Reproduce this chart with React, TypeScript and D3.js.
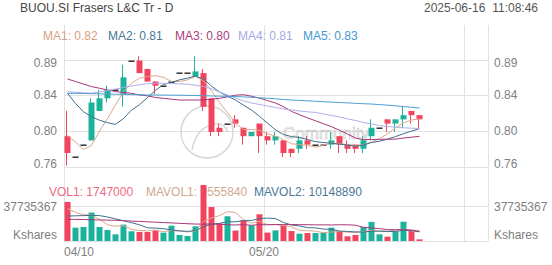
import React from "react";
import * as d3 from "d3";

const dates = ["04/10","04/11","04/14","04/15","04/16","04/17","04/21","04/22","04/23","04/24","04/25","04/28","04/29","04/30","05/02","05/05","05/06","05/07","05/08","05/09","05/13","05/14","05/15","05/16","05/19","05/20","05/21","05/22","05/23","05/26","05/27","05/28","05/29","05/30","06/02","06/03","06/04","06/05","06/06","06/09","06/10","06/11","06/12","06/13","06/16"];
const opens = [0.795,0.77,0.785,0.79,0.825,0.84,0.85,0.845,0.885,0.885,0.875,0.86,0.855,0.86,0.87,0.87,0.866,0.87,0.84,0.805,0.81,0.815,0.805,0.795,0.81,0.795,0.79,0.79,0.78,0.78,0.79,0.785,0.785,0.785,0.795,0.785,0.785,0.78,0.795,0.805,0.815,0.81,0.815,0.825,0.82];
const highs = [0.825,0.77,0.785,0.84,0.85,0.855,0.85,0.88,0.885,0.89,0.875,0.86,0.855,0.86,0.87,0.87,0.89,0.875,0.84,0.81,0.81,0.82,0.805,0.80,0.81,0.80,0.80,0.79,0.78,0.795,0.795,0.785,0.785,0.80,0.795,0.79,0.785,0.795,0.815,0.805,0.815,0.815,0.83,0.825,0.82];
const lows = [0.76,0.77,0.785,0.79,0.825,0.835,0.85,0.83,0.885,0.87,0.86,0.845,0.855,0.86,0.87,0.87,0.866,0.825,0.795,0.795,0.81,0.805,0.785,0.795,0.775,0.785,0.785,0.77,0.77,0.775,0.78,0.785,0.785,0.78,0.775,0.775,0.775,0.775,0.79,0.805,0.80,0.80,0.805,0.81,0.805];
const closes = [0.775,0.77,0.785,0.835,0.84,0.85,0.85,0.865,0.885,0.87,0.86,0.855,0.855,0.86,0.87,0.87,0.872,0.83,0.80,0.80,0.81,0.81,0.795,0.80,0.795,0.79,0.795,0.775,0.775,0.79,0.785,0.785,0.785,0.79,0.785,0.78,0.78,0.79,0.805,0.805,0.81,0.815,0.82,0.82,0.815];
const volumes = [41.5e6,14.2e6,14.9e6,30.2e6,14.9e6,11.7e6,7.1e6,17.4e6,10.3e6,9.6e6,9.6e6,11.3e6,8.9e6,16.3e6,6.4e6,5.3e6,15.6e6,59.5e6,36.1e6,18.5e6,26.3e6,11.1e6,22.0e6,16.7e6,28.4e6,8.9e6,11.3e6,16.7e6,10.6e6,7.8e6,8.5e6,8.5e6,8.9e6,14.2e6,10.3e6,5.0e6,6.4e6,14.9e6,20.3e6,7.1e6,4.6e6,10.3e6,20.5e6,10.6e6,1747000];

const ma1 = [0.796,0.788,0.779,0.784,0.801,0.816,0.832,0.848,0.858,0.864,0.866,0.867,0.865,0.86,0.86,0.862,0.866,0.861,0.849,0.835,0.823,0.81,0.803,0.803,0.802,0.798,0.795,0.791,0.786,0.785,0.784,0.782,0.784,0.787,0.786,0.785,0.784,0.785,0.788,0.792,0.798,0.805,0.811,0.814,0.816];
const ma2 = [0.846,0.834,0.824,0.818,0.814,0.811,0.809,0.816,0.826,0.8325,0.841,0.8495,0.8565,0.859,0.862,0.864,0.8665,0.863,0.8545,0.8475,0.8425,0.838,0.832,0.826,0.8185,0.8105,0.8025,0.797,0.7945,0.7935,0.791,0.7885,0.7875,0.7865,0.7855,0.7845,0.783,0.7845,0.7875,0.789,0.7915,0.7945,0.798,0.801,0.804];
const ma3 = [0.863,0.860,0.857,0.854,0.852,0.850,0.848,0.847,0.846,0.844,0.843,0.841,0.840,0.839,0.838,0.838,0.838,0.838,0.839,0.840,0.8418,0.8438,0.8443,0.8425,0.8403,0.8373,0.8345,0.830,0.8245,0.8205,0.8168,0.8133,0.8098,0.8063,0.802,0.7975,0.7928,0.7908,0.791,0.7913,0.7913,0.7915,0.7928,0.7938,0.7948];
const ma4 = [0.8479,0.8473,0.8466,0.8461,0.8476,0.8493,0.8511,0.8529,0.8547,0.8561,0.8575,0.8579,0.8579,0.8577,0.8573,0.8568,0.8556,0.8541,0.8511,0.8476,0.8440,0.8404,0.8369,0.8345,0.8327,0.8309,0.8291,0.8274,0.8262,0.8250,0.8240,0.8232,0.8214,0.8196,0.8178,0.8155,0.8137,0.8113,0.8095,0.8077,0.8065,0.8057,0.8050,0.8045,0.8042];
const ma5 = [0.8460,0.8459,0.8458,0.8456,0.8454,0.8452,0.8449,0.8447,0.8445,0.8442,0.8440,0.8440,0.8439,0.8438,0.8437,0.8435,0.8433,0.8431,0.8428,0.8426,0.8424,0.8421,0.8417,0.8413,0.8407,0.8401,0.8394,0.8386,0.8380,0.8375,0.8371,0.8365,0.8360,0.8355,0.8351,0.8346,0.8341,0.8336,0.8332,0.8326,0.8319,0.8311,0.8302,0.8294,0.8285];

const mavol1 = [34.5e6,30.5e6,28e6,27.5e6,23.14e6,17.18e6,15.76e6,16.26e6,12.28e6,11.22e6,10.8e6,11.64e6,9.94e6,11.14e6,10.5e6,9.64e6,10.5e6,20.62e6,24.58e6,27.0e6,31.2e6,30.3e6,22.8e6,18.92e6,20.9e6,17.42e6,17.46e6,16.4e6,15.18e6,11.06e6,10.98e6,10.42e6,8.86e6,9.58e6,10.08e6,9.38e6,8.96e6,10.16e6,11.38e6,10.74e6,10.66e6,11.44e6,12.56e6,10.62e6,9555840];
const mavol2 = [26.5e6,26.8e6,27e6,27.2e6,27e6,25.5e6,23.5e6,21.5e6,19.5e6,17.18e6,13.99e6,13.7e6,13.1e6,11.71e6,10.86e6,10.22e6,11.07e6,15.28e6,17.86e6,18.75e6,20.42e6,20.4e6,21.71e6,21.75e6,23.95e6,24.31e6,23.88e6,19.6e6,17.05e6,15.98e6,14.2e6,13.94e6,12.63e6,12.38e6,10.57e6,10.18e6,9.69e6,9.51e6,10.48e6,10.41e6,10.02e6,10.2e6,11.36e6,11.0e6,10148890];
const mavol3 = [23e6,23e6,22.8e6,22.6e6,22.4e6,22.2e6,22e6,21.6e6,21.2e6,20.8e6,20.4e6,20e6,19.6e6,19.2e6,18.8e6,18.4e6,18e6,18e6,18e6,17.97e6,17.2e6,17.05e6,17.4e6,16.73e6,17.4e6,17.27e6,17.48e6,17.44e6,17.46e6,17.37e6,17.31e6,17.17e6,17.17e6,17.07e6,17.26e6,17.25e6,16.79e6,14.56e6,13.77e6,13.2e6,12.11e6,12.07e6,12.0e6,11.69e6,10.36e6];

const priceTicks = [0.8862, 0.8437, 0.8012, 0.7587];
const volTick = 37735367;
const xGridIdx = [0, 25, 50];
const xLabelIdx = [0, 25];

const maNames = ["MA1", "MA2", "MA3", "MA4", "MA5"];
const maLast = ["0.82", "0.81", "0.80", "0.81", "0.83"];
const volNames = ["VOL1", "MAVOL1", "MAVOL2"];
const volLast = ["1747000", "9555840", "10148890"];

const title = "BUOU.SI Frasers L&C Tr - D";
const stampDate = "2025-06-16";
const stampTime = "11:08:46";

const UP = "#1bb39b";
const DOWN = "#f2445f";
const DOJI = "#222";
const MA_COLORS = ["#dca88c", "#3f6f8e", "#a8357a", "#aeaeec", "#4a9fd2"];
const MA_TEXT = ["#d8a083", "#4a7898", "#a83d7c", "#a8a8e6", "#3f98cf"];
const VOL_LINE_COLORS = ["#dca88c", "#3f6f8e", "#a8357a"];
const VOL_TEXT = ["#ef6a80", "#d0a88e", "#4a7898"];
const GRID = "#e2e2e2";
const AXIS = "#808080";
const FONT = "'Liberation Sans', Arial, Helvetica, sans-serif";

export default function App() {
  const x = d3.scaleLinear().domain([0, 53]).range([64, 488]);
  const yP = d3.scaleLinear().domain([0.7587, 0.8862]).range([166.7, 59.5]);
  const yV = d3.scaleLinear().domain([0, volTick]).range([241, 205.5]);
  const bw = 6;
  const left = (i: number) => x(i) + 0.5;
  const cx = (i: number) => Math.floor(x(i) + 0.5 + bw / 2) + 0.5 - 1;

  const lineP = d3.line<number>().x((_, i) => x(i) + 3.5).y((d) => yP(d));
  const lineV = d3.line<number>().x((_, i) => x(i) + 3.5).y((d) => yV(d));

  const mas = [ma1, ma2, ma3, ma4, ma5];
  const mavs = [mavol1, mavol2, mavol3];
  const crisp = (v: number) => Math.round(v) + 0.5;

  return (
    <div style={{ position: "absolute", left: 0, top: 0 }}>
      <svg width={552} height={265} style={{ display: "block", fontFamily: FONT }}>
        <rect x={0} y={0} width={552} height={265} fill="#fff" />
        {/* header */}
        <text x={20} y={8} fontSize={12} fill="#444" dominantBaseline="central">{title}</text>
        <text x={424} y={8} fontSize={12} fill="#555" dominantBaseline="central">{stampDate}</text>
        <text x={538} y={8} fontSize={12} fill="#555" textAnchor="end" dominantBaseline="central">{stampTime}</text>

        {/* grid */}
        {priceTicks.map((t, k) => (
          <line key={"hp" + k} x1={64} x2={488} y1={crisp(yP(t))} y2={crisp(yP(t))} stroke={GRID} strokeWidth={1} />
        ))}
        {[volTick, 0].map((t, k) => (
          <line key={"hv" + k} x1={64} x2={488} y1={crisp(yV(t))} y2={crisp(yV(t))} stroke={GRID} strokeWidth={1} />
        ))}
        {xGridIdx.map((i) => (
          <line key={"vx" + i} x1={crisp(x(i))} x2={crisp(x(i))} y1={25} y2={241} stroke={GRID} strokeWidth={1} />
        ))}
        <line x1={crisp(x(53))} x2={crisp(x(53))} y1={25} y2={241} stroke={GRID} strokeWidth={1} />

        {/* watermark */}
        <g opacity={0.8}>
          <circle cx={207} cy={132} r={26} fill="none" stroke="#cfcfcf" strokeWidth={1.5} />
          <path d="M192,150 Q196,128 214,124 Q224,122 228,132" fill="none" stroke="#cfcfcf" strokeWidth={1.5} />
          <text x={283} y={139} fontSize={17} fill="none" stroke="#bdbdbd" strokeWidth={0.7}>Community</text>
        </g>

        {/* price axis labels */}
        {priceTicks.map((t, k) => {
          const yy = Math.min(Math.max(yP(t), 63), 164);
          return (
            <g key={"pl" + k}>
              <text x={57} y={yy} fontSize={12} fill={AXIS} textAnchor="end" dominantBaseline="central">{t.toFixed(2)}</text>
              <text x={494} y={yy} fontSize={12} fill={AXIS} dominantBaseline="central">{t.toFixed(2)}</text>
            </g>
          );
        })}

        {/* MA legend */}
        {(() => {
          const xs = [43, 108, 175, 238, 303];
          return maNames.map((n, k) => (
            <text key={"ml" + k} x={xs[k]} y={36} fontSize={12} fill={MA_TEXT[k]} dominantBaseline="central">
              {n + ": " + maLast[k]}
            </text>
          ));
        })()}

        {/* candles */}
        {dates.map((d, i) => {
          const o = opens[i], c = closes[i], h = highs[i], l = lows[i];
          const doji = Math.abs(o - c) < 1e-9;
          if (doji) {
            return (
              <rect key={"c" + i} x={left(i)} y={Math.round(yP(c)) - 0.5} width={bw} height={1.4} fill={DOJI} />
            );
          }
          const col = c > o ? UP : DOWN;
          const top = yP(Math.max(o, c));
          const bot = yP(Math.min(o, c));
          return (
            <g key={"c" + i}>
              <line x1={cx(i)} x2={cx(i)} y1={yP(h)} y2={yP(l)} stroke={col} strokeWidth={1} />
              <rect x={left(i)} y={top} width={bw} height={Math.max(1, bot - top)} fill={col} />
            </g>
          );
        })}

        {/* MA lines */}
        {mas.map((m, k) => (
          <path key={"ma" + k} d={lineP(m) || ""} fill="none" stroke={MA_COLORS[k]} strokeWidth={1} />
        ))}

        {/* volume legend */}
        {(() => {
          const xs = [49, 146, 254];
          return volNames.map((n, k) => (
            <text key={"vl" + k} x={xs[k]} y={192} fontSize={12} fill={VOL_TEXT[k]} dominantBaseline="central">
              {n + ": " + volLast[k]}
            </text>
          ));
        })()}

        {/* volume bars */}
        {volumes.map((v, i) => {
          const col = closes[i] >= opens[i] ? UP : DOWN;
          const yt = yV(v);
          return <rect key={"v" + i} x={left(i)} y={yt} width={bw} height={yV(0) - yt} fill={col} />;
        })}
        {mavs.map((m, k) => (
          <path key={"mv" + k} d={lineV(m) || ""} fill="none" stroke={VOL_LINE_COLORS[k]} strokeWidth={1} />
        ))}

        {/* volume axis labels */}
        <text x={57} y={207} fontSize={12} fill={AXIS} textAnchor="end" dominantBaseline="central">{String(volTick)}</text>
        <text x={57} y={235} fontSize={12} fill={AXIS} textAnchor="end" dominantBaseline="central">Kshares</text>
        <text x={494} y={207} fontSize={12} fill={AXIS} dominantBaseline="central">{String(volTick)}</text>
        <text x={494} y={235} fontSize={12} fill={AXIS} dominantBaseline="central">Kshares</text>

        {/* date labels */}
        {xLabelIdx.map((i, k) => (
          <text key={"dl" + i} x={x(i)} y={252} fontSize={12} fill={AXIS}
            textAnchor={k === 0 ? "start" : "middle"} dominantBaseline="central">{dates[i]}</text>
        ))}
      </svg>
    </div>
  );
}
